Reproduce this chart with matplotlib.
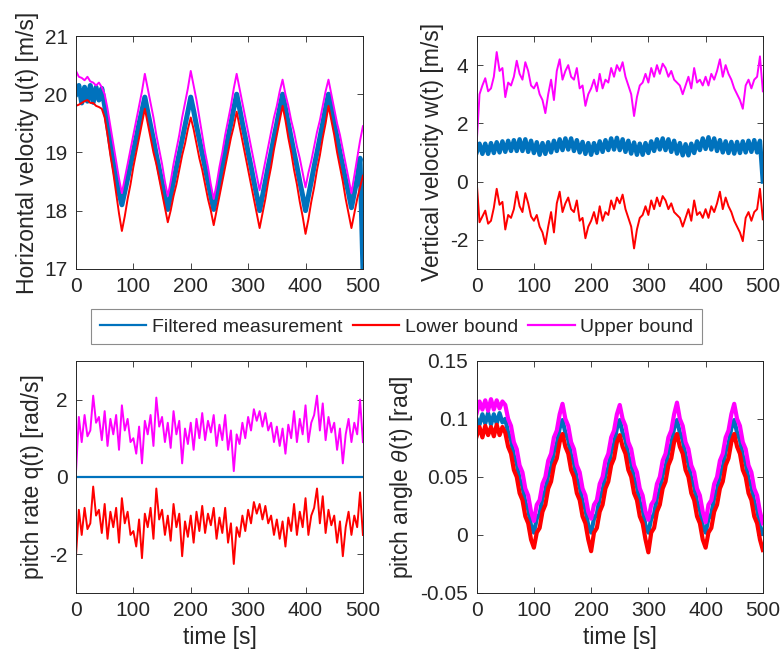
import numpy as np
import matplotlib
matplotlib.use("Agg")
import matplotlib.pyplot as plt
from matplotlib.ticker import FuncFormatter

plt.rcParams["font.family"] = ["Liberation Sans", "DejaVu Sans"]
plt.rcParams["mathtext.fontset"] = "custom"
plt.rcParams["mathtext.it"] = "Liberation Sans:italic"

# time base, one sample every 5 s
t = np.arange(0, 501, 5)

# horizontal velocity u(t) [m/s]
u_meas = [
    20.00, 20.15, 19.85, 20.12, 19.88, 20.15, 19.86, 20.12, 19.90, 20.10,
    19.80, 19.48, 19.15, 18.85, 18.55, 18.30, 18.10, 18.32, 18.55, 18.78,
    19.02, 19.25, 19.50, 19.72, 19.95, 19.70, 19.46, 19.22, 18.96, 18.72,
    18.48, 18.24, 18.02, 18.25, 18.50, 18.74, 18.98, 19.22, 19.46, 19.70,
    19.95, 19.72, 19.46, 19.22, 18.98, 18.74, 18.50, 18.25, 18.02, 18.26,
    18.50, 18.76, 19.00, 19.26, 19.50, 19.76, 20.00, 19.76, 19.50, 19.26,
    19.00, 18.76, 18.50, 18.26, 18.00, 18.25, 18.50, 18.76, 19.00, 19.26,
    19.50, 19.76, 20.00, 19.76, 19.50, 19.25, 19.00, 18.76, 18.50, 18.26,
    18.00, 18.25, 18.50, 18.76, 19.00, 19.25, 19.50, 19.76, 20.00, 19.76,
    19.50, 19.26, 19.00, 18.76, 18.52, 18.30, 18.05, 18.30, 18.55, 18.90,
    17.00,
]
u_upper = [
    20.40, 20.30, 20.28, 20.24, 20.30, 20.22, 20.20, 20.15, 20.20, 20.12,
    20.00, 19.75, 19.45, 19.15, 18.85, 18.55, 18.30, 18.55, 18.80, 19.05,
    19.30, 19.55, 19.80, 20.05, 20.35, 20.10, 19.85, 19.60, 19.30, 19.05,
    18.80, 18.50, 18.25, 18.50, 18.80, 19.05, 19.30, 19.60, 19.85, 20.10,
    20.40, 20.15, 19.90, 19.60, 19.30, 19.00, 18.75, 18.45, 18.20, 18.45,
    18.75, 19.00, 19.30, 19.55, 19.80, 20.10, 20.35, 20.10, 19.85, 19.60,
    19.35, 19.10, 18.85, 18.60, 18.35, 18.60, 18.85, 19.10, 19.35, 19.60,
    19.80, 20.05, 20.25, 20.00, 19.80, 19.55, 19.35, 19.10, 18.90, 18.65,
    18.40, 18.65, 18.85, 19.10, 19.35, 19.55, 19.80, 20.05, 20.25, 20.00,
    19.75, 19.50, 19.30, 19.05, 18.80, 18.55, 18.30, 18.60, 18.90, 19.20,
    19.45,
]
u_lower = [
    19.80, 19.82, 19.85, 19.88, 19.90, 19.85, 19.85, 19.80, 19.78, 19.75,
    19.60, 19.30, 18.95, 18.65, 18.30, 17.95, 17.65, 17.90, 18.20, 18.45,
    18.75, 19.00, 19.25, 19.50, 19.75, 19.50, 19.25, 19.00, 18.80, 18.55,
    18.30, 18.05, 17.80, 18.00, 18.25, 18.45, 18.70, 18.95, 19.15, 19.40,
    19.60, 19.40, 19.15, 18.90, 18.70, 18.45, 18.20, 18.00, 17.75, 18.00,
    18.25, 18.50, 18.75, 19.00, 19.25, 19.45, 19.70, 19.45, 19.20, 18.95,
    18.70, 18.45, 18.20, 17.95, 17.70, 17.95, 18.20, 18.50, 18.75, 19.05,
    19.30, 19.55, 19.80, 19.55, 19.25, 19.00, 18.70, 18.45, 18.15, 17.90,
    17.60, 17.85, 18.15, 18.40, 18.70, 18.95, 19.25, 19.50, 19.80, 19.55,
    19.30, 19.00, 18.75, 18.50, 18.20, 17.95, 17.70, 17.95, 18.20, 18.40,
    18.60,
]

# vertical velocity w(t) [m/s]
w_meas = [
    1.00, 1.30, 0.95, 1.30, 0.95, 1.32, 0.98, 1.35, 1.00, 1.38,
    1.02, 1.40, 1.05, 1.42, 1.05, 1.45, 1.05, 1.45, 1.02, 1.40,
    0.98, 1.35, 0.92, 1.32, 0.95, 1.35, 1.00, 1.40, 1.05, 1.45,
    1.08, 1.48, 1.10, 1.48, 1.05, 1.42, 1.00, 1.36, 0.95, 1.32,
    0.92, 1.32, 0.98, 1.38, 1.02, 1.42, 1.08, 1.48, 1.10, 1.50,
    1.08, 1.45, 1.02, 1.40, 0.96, 1.34, 0.92, 1.30, 0.92, 1.32,
    0.98, 1.38, 1.05, 1.45, 1.10, 1.48, 1.08, 1.45, 1.02, 1.40,
    0.96, 1.32, 0.90, 1.28, 0.90, 1.30, 0.98, 1.38, 1.08, 1.48,
    1.12, 1.52, 1.10, 1.48, 1.05, 1.42, 1.00, 1.38, 0.98, 1.36,
    0.96, 1.36, 0.98, 1.38, 1.00, 1.40, 1.02, 1.42, 1.00, 1.40,
    0.00,
]
w_upper = [
    1.30, 3.00, 3.30, 3.55, 3.10, 3.20, 3.60, 4.45, 3.80, 3.90,
    2.90, 3.40, 3.30, 3.60, 4.15, 3.70, 3.50, 4.10, 3.80, 3.30,
    3.20, 3.40, 3.00, 2.80, 2.35, 3.00, 3.50, 2.80, 3.80, 4.20,
    3.50, 3.80, 4.00, 3.60, 3.50, 3.90, 3.20, 3.30, 2.60, 3.00,
    3.20, 3.50, 3.10, 3.70, 3.20, 3.50, 3.40, 3.90, 3.60, 4.00,
    3.80, 4.10, 3.60, 3.30, 3.00, 2.25, 2.90, 3.30, 3.40, 3.70,
    3.40, 3.90, 3.60, 4.00, 3.70, 4.05, 3.90, 3.60, 3.80, 3.50,
    3.40, 3.30, 3.00, 3.30, 3.60, 3.20, 3.90, 3.40, 3.50, 3.30,
    3.60, 3.30, 3.70, 3.50, 3.80, 4.20, 3.60, 4.00, 3.70, 3.50,
    3.20, 3.00, 2.80, 2.50, 3.30, 3.50, 3.20, 3.50, 3.60, 4.30,
    3.10,
]
w_lower = [
    0.00, -1.40, -1.20, -1.00, -1.45, -1.35, -0.90, -0.25, -0.80, -0.70,
    -1.65, -1.15, -1.25, -0.95, -0.35, -0.85, -1.05, -0.40, -0.75, -1.20,
    -1.35, -1.15, -1.55, -1.75, -2.15, -1.55, -1.05, -1.75, -0.75, -0.35,
    -1.05, -0.75, -0.55, -0.95, -1.05, -0.65, -1.35, -1.25, -1.95, -1.55,
    -1.35, -1.05, -1.45, -0.85, -1.35, -1.05, -1.15, -0.65, -0.95, -0.55,
    -0.75, -0.45, -0.95, -1.25, -1.55, -2.30, -1.65, -1.25, -1.15, -0.85,
    -1.15, -0.65, -0.95, -0.55, -0.85, -0.50, -0.65, -0.95, -0.75, -1.05,
    -1.15, -1.25, -1.55, -1.25, -0.95, -1.35, -0.65, -1.15, -1.05, -1.25,
    -0.95, -1.25, -0.85, -1.05, -0.75, -0.35, -0.95, -0.55, -0.85, -1.05,
    -1.35, -1.55, -1.75, -2.05, -1.25, -1.05, -1.35, -1.05, -0.95, -0.25,
    -1.30,
]

# pitch rate q(t) [rad/s]
q_meas = [0.0] * 101
q_upper = [
    0.10, 1.55, 0.90, 1.60, 1.05, 1.20, 2.10, 1.40, 1.55, 0.95,
    1.70, 0.80, 1.50, 1.10, 1.60, 0.70, 1.85, 1.20, 1.50, 0.90,
    1.00, 0.60, 1.30, 0.35, 1.45, 1.10, 1.60, 0.80, 2.05, 1.30,
    1.55, 0.90, 1.40, 0.75, 1.70, 1.10, 1.45, 0.35, 1.25, 0.85,
    1.40, 0.70, 1.50, 1.00, 1.65, 0.95, 1.45, 1.15, 1.60, 0.80,
    1.35, 0.95, 1.60, 0.70, 1.20, 0.15, 1.10, 0.85, 1.40, 1.00,
    1.55, 1.20, 1.75, 1.45, 1.70, 1.30, 1.65, 1.20, 1.40, 0.90,
    1.30, 0.80, 1.25, 0.60, 1.35, 1.00, 1.70, 0.90, 1.50, 1.10,
    1.85, 0.90, 1.40, 1.60, 2.10, 1.20, 1.90, 0.95, 1.55, 1.15,
    1.40, 0.70, 1.25, 0.35, 1.10, 1.50, 0.90, 1.40, 1.10, 2.00,
    0.90,
]
q_lower = [
    -2.05, -0.85, -1.50, -0.80, -1.35, -1.20, -0.25, -1.00, -0.85, -1.45,
    -0.70, -1.60, -0.90, -1.30, -0.80, -1.70, -0.55, -1.20, -0.90, -1.50,
    -1.40, -1.80, -1.10, -2.10, -0.95, -1.30, -0.80, -1.60, -0.30, -1.10,
    -0.85, -1.50, -1.00, -1.65, -0.70, -1.30, -0.95, -2.05, -1.15, -1.55,
    -1.00, -1.70, -0.90, -1.40, -0.75, -1.45, -0.95, -1.25, -0.80, -1.60,
    -1.05, -1.45, -0.80, -1.70, -1.20, -2.25, -1.30, -1.55, -1.00, -1.40,
    -0.85, -1.20, -0.65, -0.95, -0.70, -1.10, -0.75, -1.20, -1.00, -1.50,
    -1.10, -1.60, -1.15, -1.80, -1.05, -1.40, -0.70, -1.50, -0.90, -1.30,
    -0.55, -1.50, -1.00, -0.80, -0.30, -1.20, -0.50, -1.45, -0.85, -1.25,
    -1.00, -1.70, -1.15, -2.05, -1.30, -0.90, -1.50, -1.00, -1.30, -0.40,
    -1.50,
]

# pitch angle theta(t) [rad]
th_meas = [
    0.100, 0.095, 0.104, 0.096, 0.105, 0.095, 0.104, 0.096, 0.105, 0.097,
    0.100, 0.088, 0.082, 0.068, 0.062, 0.048, 0.042, 0.028, 0.022, 0.008,
    0.002, 0.014, 0.018, 0.032, 0.038, 0.052, 0.058, 0.072, 0.078, 0.092,
    0.099, 0.088, 0.082, 0.068, 0.062, 0.048, 0.042, 0.028, 0.022, 0.008,
    0.002, 0.014, 0.018, 0.032, 0.038, 0.052, 0.058, 0.072, 0.078, 0.092,
    0.099, 0.088, 0.082, 0.068, 0.062, 0.048, 0.042, 0.028, 0.022, 0.008,
    0.002, 0.014, 0.018, 0.032, 0.038, 0.052, 0.058, 0.072, 0.078, 0.092,
    0.099, 0.088, 0.082, 0.068, 0.062, 0.048, 0.042, 0.028, 0.022, 0.008,
    0.002, 0.014, 0.018, 0.032, 0.038, 0.052, 0.058, 0.072, 0.078, 0.092,
    0.099, 0.088, 0.082, 0.068, 0.062, 0.048, 0.042, 0.028, 0.022, 0.008,
    0.001,
]
th_upper = [
    0.105, 0.115, 0.108, 0.116, 0.107, 0.117, 0.108, 0.116, 0.109, 0.115,
    0.112, 0.100, 0.094, 0.080, 0.074, 0.060, 0.054, 0.040, 0.034, 0.020,
    0.012, 0.026, 0.030, 0.044, 0.050, 0.064, 0.070, 0.084, 0.090, 0.104,
    0.113, 0.100, 0.094, 0.080, 0.074, 0.060, 0.054, 0.040, 0.034, 0.020,
    0.014, 0.026, 0.030, 0.044, 0.050, 0.064, 0.070, 0.084, 0.090, 0.104,
    0.112, 0.100, 0.094, 0.080, 0.074, 0.060, 0.054, 0.040, 0.034, 0.020,
    0.013, 0.026, 0.030, 0.044, 0.050, 0.064, 0.070, 0.084, 0.090, 0.104,
    0.114, 0.100, 0.094, 0.080, 0.074, 0.060, 0.054, 0.040, 0.034, 0.020,
    0.011, 0.026, 0.030, 0.044, 0.050, 0.064, 0.070, 0.084, 0.090, 0.104,
    0.113, 0.100, 0.094, 0.080, 0.074, 0.060, 0.054, 0.040, 0.034, 0.020,
    0.010,
]
th_lower = [
    0.085, 0.093, 0.084, 0.094, 0.086, 0.093, 0.085, 0.095, 0.086, 0.093,
    0.088, 0.076, 0.070, 0.056, 0.050, 0.036, 0.030, 0.016, 0.010, -0.004,
    -0.011, 0.002, 0.006, 0.020, 0.026, 0.040, 0.046, 0.060, 0.066, 0.080,
    0.087, 0.076, 0.070, 0.056, 0.050, 0.036, 0.030, 0.016, 0.010, -0.004,
    -0.014, 0.002, 0.006, 0.020, 0.026, 0.040, 0.046, 0.060, 0.066, 0.080,
    0.086, 0.076, 0.070, 0.056, 0.050, 0.036, 0.030, 0.016, 0.010, -0.004,
    -0.015, 0.002, 0.006, 0.020, 0.026, 0.040, 0.046, 0.060, 0.066, 0.080,
    0.087, 0.076, 0.070, 0.056, 0.050, 0.036, 0.030, 0.016, 0.010, -0.004,
    -0.011, 0.002, 0.006, 0.020, 0.026, 0.040, 0.046, 0.060, 0.066, 0.080,
    0.087, 0.076, 0.070, 0.056, 0.050, 0.036, 0.030, 0.016, 0.010, -0.004,
    -0.013,
]

blue = "#0072BD"
red = "#FF0000"
magenta = "#FF00FF"
dark = "#262626"

fig = plt.figure(figsize=(7.84, 6.67), dpi=100)

positions = [
    [0.0969, 0.597, 0.366, 0.349],
    [0.608, 0.597, 0.365, 0.349],
    [0.0969, 0.111, 0.366, 0.348],
    [0.608, 0.111, 0.365, 0.348],
]

# data, y-limits, y-ticks, label, x-label shown, blue width, bound width
panels = [
    (u_meas, u_lower, u_upper, (17, 21), [17, 18, 19, 20, 21],
     "Horizontal velocity u(t) [m/s]", False, 3.6, 1.4),
    (w_meas, w_lower, w_upper, (-3, 5), [-2, 0, 2, 4],
     "Vertical velocity w(t) [m/s]", False, 3.2, 1.4),
    (q_meas, q_lower, q_upper, (-3, 3), [-2, 0, 2],
     "pitch rate q(t) [rad/s]", True, 1.6, 1.4),
    (th_meas, th_lower, th_upper, (-0.05, 0.15), [-0.05, 0, 0.05, 0.1, 0.15],
     r"pitch angle $\theta$(t) [rad]", True, 3.0, 3.0),
]


def fmt(v, pos):
    return "%g" % round(v, 4)


for pos, (meas, low, up, ylim, yticks, ylabel, show_x, lw_meas, lw_b) in zip(positions, panels):
    ax = fig.add_axes(pos)
    ax.plot(t, meas, color=blue, lw=lw_meas, label="Filtered measurement")
    ax.plot(t, low, color=red, lw=lw_b, label="Lower bound")
    ax.plot(t, up, color=magenta, lw=lw_b, label="Upper bound")
    ax.set_xlim(0, 500)
    ax.set_ylim(*ylim)
    ax.set_xticks([0, 100, 200, 300, 400, 500])
    ax.set_yticks(yticks)
    ax.yaxis.set_major_formatter(FuncFormatter(fmt))
    ax.tick_params(direction="in", top=True, right=True, length=4,
                   width=0.6, colors=dark, labelsize=15, pad=6)
    for sp in ax.spines.values():
        sp.set_color(dark)
        sp.set_linewidth(0.7)
    ax.set_ylabel(ylabel, fontsize=16.5, color=dark, labelpad=4)
    if show_x:
        ax.set_xlabel("time [s]", fontsize=16.5, color=dark, labelpad=4)

leg_lines = [plt.Line2D([], [], color=c, lw=1.6) for c in (blue, red, magenta)]
leg = fig.legend(handles=leg_lines,
                 labels=["Filtered measurement", "Lower bound", "Upper bound"],
                 loc="center", bbox_to_anchor=(0.506, 0.510), ncol=3,
                 fontsize=14, frameon=True, fancybox=False, framealpha=1,
                 edgecolor="#8c8c8c", handlelength=2.4, columnspacing=0.5,
                 handletextpad=0.3, borderpad=0.45, borderaxespad=0)
leg.get_frame().set_linewidth(0.8)
for txt in leg.get_texts():
    txt.set_color(dark)

fig.savefig("out.png", dpi=100)
